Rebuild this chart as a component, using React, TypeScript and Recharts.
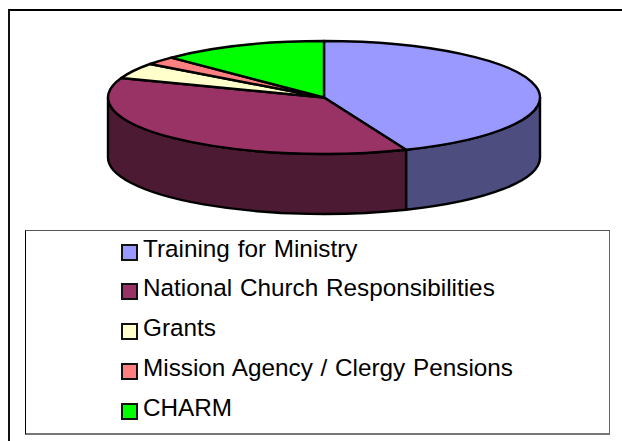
import React from "react";
import { PieChart, Pie, Legend } from "recharts";

const categories = [
    "Training for Ministry",
    "National Church Responsibilities",
    "Grants",
    "Mission Agency / Clergy Pensions",
    "CHARM",
];
const shares = [43.8, 36.8, 4.5, 2.4, 12.5];
const topColors = ["#9999ff", "#993366", "#ffffcc", "#ff8080", "#00ff00"];
const wallColors = ["#4d4d80", "#4d1a33", "#808066", "#804040", "#008000"];

const topData = categories.map((name, i) => ({ name, value: shares[i], fill: topColors[i] }));
const wallData = categories.map((name, i) => ({ name, value: shares[i], fill: wallColors[i] }));

const RX = 216;
const RY = 56.5;
const DEPTH = 60;

const rad = (deg: number) => (deg * Math.PI) / 180;

// flatten a point of the pie circle onto the tilted ellipse
const ellipsePoint = (cx: number, cy: number, angle: number) => ({
    x: cx + RX * Math.cos(rad(angle)),
    y: cy - RY * Math.sin(rad(angle)),
});

const TopSlice = (props: any) => {
    const { cx, cy, startAngle, endAngle, fill } = props;
    const a = ellipsePoint(cx, cy, startAngle);
    const b = ellipsePoint(cx, cy, endAngle);
    const large = Math.abs(startAngle - endAngle) > 180 ? 1 : 0;
    return (
        <path
            d={`M${cx},${cy} L${a.x},${a.y} A${RX},${RY} 0 ${large} 1 ${b.x},${b.y} Z`}
            fill={fill}
            stroke="#000"
            strokeWidth={2.4}
            strokeLinejoin="round"
        />
    );
};

// only the part of a slice in the front half of the ellipse has a visible wall
const WallSlice = (props: any) => {
    const { cx, cy, startAngle, endAngle, fill } = props;
    const from = Math.min(startAngle, 0);
    const to = Math.max(endAngle, -180);
    if (from <= to) return <g />;
    const a = ellipsePoint(cx, cy, from);
    const b = ellipsePoint(cx, cy, to);
    return (
        <path
            d={`M${a.x},${a.y} A${RX},${RY} 0 0 1 ${b.x},${b.y} L${b.x},${b.y + DEPTH} A${RX},${RY} 0 0 0 ${a.x},${a.y + DEPTH} Z`}
            fill={fill}
            stroke="#000"
            strokeWidth={2.4}
            strokeLinejoin="round"
        />
    );
};

const LegendList = ({ payload }: any) => (
    <div style={{ position: "relative", width: "100%", height: "100%" }}>
        {(payload || [])
            .filter((entry: any) => entry.type !== "none")
            .map((entry: any, i: number) => (
                <div
                    key={i}
                    style={{
                        position: "absolute",
                        left: 95,
                        top: 13 + i * 39.75,
                        display: "flex",
                        alignItems: "center",
                        height: 16,
                    }}
                >
                    <span
                        style={{
                            width: 13,
                            height: 13,
                            background: entry.color,
                            border: "2px solid #111",
                            display: "inline-block",
                            flex: "none",
                        }}
                    />
                    <span
                        style={{
                            marginLeft: 5,
                            marginTop: -7,
                            fontFamily: "'Liberation Sans', Arial, sans-serif",
                            fontSize: 24.3,
                            wordSpacing: 1,
                            color: "#000",
                            whiteSpace: "nowrap",
                        }}
                    >
                        {entry.value}
                    </span>
                </div>
            ))}
    </div>
);

export default function App() {
    return (
        <div style={{ position: "absolute", left: 0, top: 0, width: 622, height: 441, overflow: "hidden", background: "#fff" }}>
            <div
                style={{
                    position: "absolute",
                    left: 8,
                    top: 9,
                    width: 620,
                    height: 440,
                    borderTop: "2.5px solid #000",
                    borderLeft: "2.5px solid #111",
                }}
            />
            <PieChart
                width={622}
                height={441}
                margin={{ top: 0, right: 0, bottom: 0, left: 0 }}
                style={{ position: "absolute", left: 0, top: 0 }}
            >
                <Pie
                    data={wallData}
                    dataKey="value"
                    nameKey="name"
                    cx={324}
                    cy={97.5}
                    outerRadius={RX}
                    startAngle={90}
                    endAngle={-270}
                    legendType="none"
                    shape={WallSlice}
                    isAnimationActive={false}
                />
                <Pie
                    data={topData}
                    dataKey="value"
                    nameKey="name"
                    cx={324}
                    cy={97.5}
                    outerRadius={RX}
                    startAngle={90}
                    endAngle={-270}
                    shape={TopSlice}
                    isAnimationActive={false}
                />
                <Legend
                    content={LegendList}
                    itemSorter={null}
                    wrapperStyle={{
                        position: "absolute",
                        left: 25,
                        top: 230,
                        width: 585,
                        height: 205,
                        boxSizing: "border-box",
                        background: "#fff",
                        borderTop: "1px solid #555",
                        borderRight: "1px solid #666",
                        borderBottom: "2px solid #777",
                        borderLeft: "1px solid #000",
                    }}
                />
            </PieChart>
        </div>
    );
}
